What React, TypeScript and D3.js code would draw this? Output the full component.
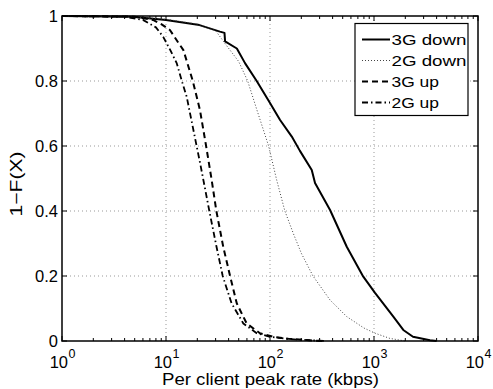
import React from "react";
import * as d3 from "d3";

const W = 493;
const H = 389;

const xTicks = [1, 10, 100, 1000, 10000];
const xTickExp = ["0", "1", "2", "3", "4"];
const yTicks = [0, 0.2, 0.4, 0.6, 0.8, 1];
const yTickLabels = ["0", "0.2", "0.4", "0.6", "0.8", "1"];

const down3gRate = [1, 4.8, 10, 21, 33, 36.5, 37, 48, 57.5, 74.5, 100, 125, 162, 194, 252, 271, 378, 547, 789, 1023, 1534, 1913, 2371, 3453, 4000];
const down3gP = [1, 0.998, 0.988, 0.972, 0.952, 0.948, 0.922, 0.9, 0.855, 0.8, 0.732, 0.68, 0.629, 0.585, 0.526, 0.486, 0.403, 0.29, 0.198, 0.148, 0.075, 0.034, 0.013, 0.002, 0];

const down2gRate = [1, 5, 10, 20, 30, 38, 50, 61, 75, 97, 116, 139, 168, 200, 259, 378, 547, 800, 1023, 1420, 2000];
const down2gP = [1, 0.997, 0.99, 0.975, 0.955, 0.91, 0.86, 0.8, 0.71, 0.6, 0.495, 0.4, 0.33, 0.27, 0.2, 0.126, 0.075, 0.04, 0.024, 0.008, 0];

const up3gRate = [1, 5, 7.5, 9, 10.9, 13, 14.7, 18.1, 21.2, 24.3, 27.5, 30.5, 35.5, 41.3, 47.9, 59.6, 80, 108, 150, 220, 320];
const up3gP = [1, 0.998, 0.988, 0.975, 0.957, 0.92, 0.895, 0.8, 0.711, 0.6, 0.495, 0.4, 0.29, 0.2, 0.116, 0.054, 0.024, 0.013, 0.007, 0.003, 0];

const up2gRate = [1, 4, 6, 8, 9.4, 11, 12.7, 14.2, 15.8, 19.7, 21.2, 23.7, 26.1, 30.6, 35.1, 42.7, 55.4, 74.5, 100, 150, 250, 350];
const up2gP = [1, 0.998, 0.988, 0.965, 0.936, 0.895, 0.854, 0.8, 0.752, 0.6, 0.55, 0.47, 0.4, 0.29, 0.2, 0.116, 0.054, 0.024, 0.013, 0.006, 0.002, 0];

const seriesNames = ["3G down", "2G down", "3G up", "2G up"];

const FONT = "'Liberation Sans', Arial, Helvetica, sans-serif";

export default function App() {
  const left = 62, right = 478, top = 16, bottom = 341;
  const x = d3.scaleLog().domain([1, 10000]).range([left, right]);
  const y = d3.scaleLinear().domain([0, 1]).range([bottom, top]);

  const series = [
    { name: seriesNames[0], rate: down3gRate, p: down3gP, stroke: "#000", width: 2, dash: "" },
    { name: seriesNames[1], rate: down2gRate, p: down2gP, stroke: "#444", width: 1, dash: "1,2" },
    { name: seriesNames[2], rate: up3gRate, p: up3gP, stroke: "#000", width: 2, dash: "6,4" },
    { name: seriesNames[3], rate: up2gRate, p: up2gP, stroke: "#000", width: 1.8, dash: "6,3,1.5,3" },
  ];

  const line = d3
    .line<[number, number]>()
    .x((d) => x(d[0]))
    .y((d) => y(d[1]));

  const minor: number[] = [];
  for (let e = 0; e < 4; e++) {
    for (let m = 2; m <= 9; m++) minor.push(m * Math.pow(10, e));
  }

  const legX = 355, legY = 23.5, legW = 113, legH = 92;
  const rowY = [39.5, 60.5, 81.5, 102.5];
  const legTextLen = [75, 75, 47.5, 47.5];

  return (
    <svg
      width={W}
      height={H}
      style={{ position: "absolute", left: 0, top: 0, background: "#fff" }}
      fontFamily={FONT}
    >
      <rect x={0} y={0} width={W} height={H} fill="#fff" />
      {/* grid */}
      <g stroke="#999" strokeWidth={1} strokeDasharray="1,3">
        {xTicks.slice(1, -1).map((t) => (
          <line key={"gx" + t} x1={x(t)} x2={x(t)} y1={top} y2={bottom} />
        ))}
        {yTicks.slice(1, -1).map((t) => (
          <line key={"gy" + t} x1={left} x2={right} y1={y(t)} y2={y(t)} />
        ))}
      </g>
      {/* ticks */}
      <g stroke="#000" strokeWidth={1}>
        {xTicks.map((t) => (
          <g key={"tx" + t}>
            <line x1={x(t)} x2={x(t)} y1={bottom} y2={bottom - 5} />
            <line x1={x(t)} x2={x(t)} y1={top} y2={top + 5} />
          </g>
        ))}
        {minor.map((t) => (
          <g key={"mx" + t}>
            <line x1={x(t)} x2={x(t)} y1={bottom} y2={bottom - 3} />
            <line x1={x(t)} x2={x(t)} y1={top} y2={top + 3} />
          </g>
        ))}
        {yTicks.map((t) => (
          <g key={"ty" + t}>
            <line x1={left} x2={left + 5} y1={y(t)} y2={y(t)} />
            <line x1={right} x2={right - 5} y1={y(t)} y2={y(t)} />
          </g>
        ))}
      </g>
      {/* curves */}
      <g fill="none" strokeLinejoin="round">
        {series.map((s) => (
          <path
            key={s.name}
            d={line(s.rate.map((r, i) => [r, s.p[i]] as [number, number])) || ""}
            stroke={s.stroke}
            strokeWidth={s.width}
            strokeDasharray={s.dash || undefined}
          />
        ))}
      </g>
      {/* axes box */}
      <rect x={left} y={top} width={right - left} height={bottom - top} fill="none" stroke="#000" strokeWidth={1.5} />
      {/* tick labels */}
      <g fontSize={16.5} fill="#000">
        {yTicks.map((t, i) => (
          <text key={"ly" + t} x={left - 4} y={y(t)} dy="0.36em" textAnchor="end">
            {yTickLabels[i]}
          </text>
        ))}
        {xTicks.map((t, i) => (
          <g key={"lx" + t}>
            <text x={x(t) + 6} y={368} textAnchor="end">10</text>
            <text x={x(t) + 6.5} y={358} fontSize={12.5} textAnchor="start">
              {xTickExp[i]}
            </text>
          </g>
        ))}
      </g>
      {/* axis titles */}
      <text x={270.5} y={385} fontSize={16.5} textAnchor="middle" textLength={217} lengthAdjust="spacingAndGlyphs">
        Per client peak rate (kbps)
      </text>
      <text
        transform={`translate(22,184) rotate(-90)`}
        fontSize={16.5}
        textAnchor="middle"
        textLength={65}
        lengthAdjust="spacingAndGlyphs"
      >
        1−F(X)
      </text>
      {/* legend */}
      <rect x={legX} y={legY} width={legW} height={legH} fill="#fff" stroke="#000" strokeWidth={1.2} />
      {series.map((s, i) => (
        <g key={"leg" + s.name}>
          <line
            x1={362}
            x2={390}
            y1={rowY[i]}
            y2={rowY[i]}
            stroke={s.stroke}
            strokeWidth={s.width}
            strokeDasharray={s.dash || undefined}
          />
          <text
            x={391.5}
            y={rowY[i]}
            dy="0.36em"
            fontSize={15}
            textLength={legTextLen[i]}
            lengthAdjust="spacingAndGlyphs"
          >
            {s.name}
          </text>
        </g>
      ))}
    </svg>
  );
}
